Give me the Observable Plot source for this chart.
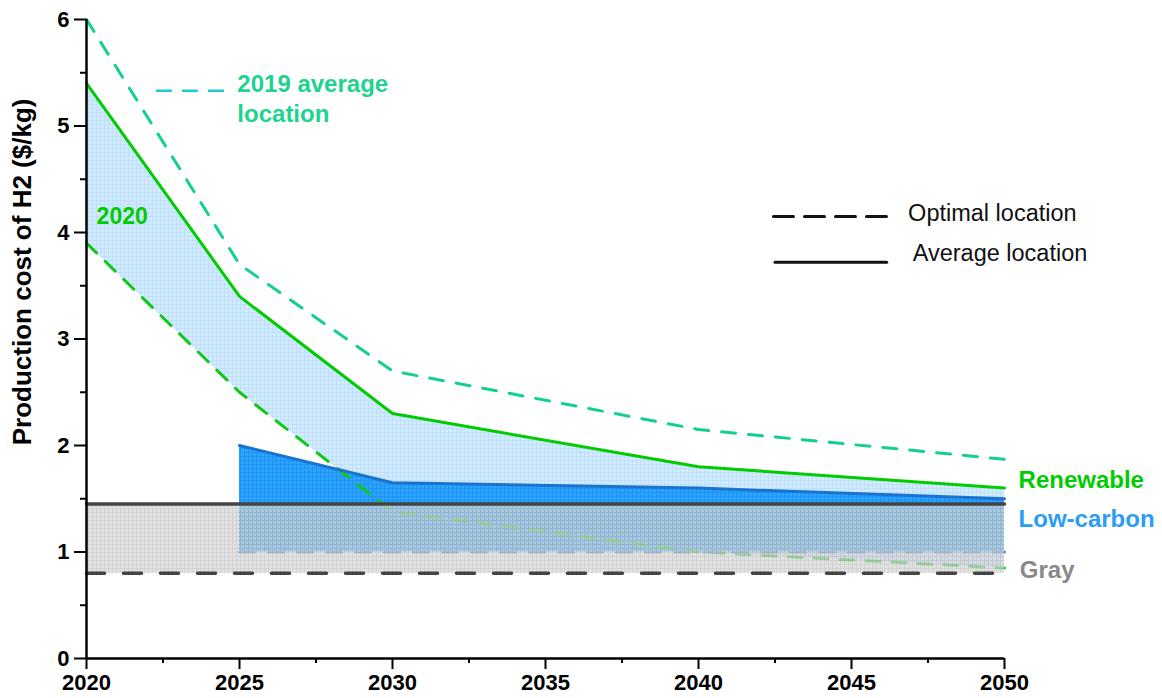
<!DOCTYPE html>
<html><head><meta charset="utf-8">
<script src="https://cdn.jsdelivr.net/npm/d3@7"></script>
<script src="https://cdn.jsdelivr.net/npm/@observablehq/plot@0.6"></script>
<style>
body{margin:0;background:#fff;}
#chart svg{font-family:"Liberation Sans",Arial,Helvetica,sans-serif;overflow:visible;}
#chart svg g[aria-label="x-axis tick label"], #chart svg g[aria-label="y-axis tick label"]{font-size:22px;font-weight:bold;fill:#000;}
</style></head><body><div id="chart"></div>
<script>
// ---- data ----
const years = [2020, 2025, 2030, 2040, 2050];
const renew2019Avg = [6.0, 3.7, 2.7, 2.15, 1.87];
const renewAvg = [5.4, 3.4, 2.3, 1.8, 1.6];
const renewOpt = [3.9, 2.5, 1.38, 1.0, 0.85];
const lowYears = [2025, 2030, 2040, 2050];
const lowAvg = [2.0, 1.65, 1.6, 1.5];
const lowOpt = [1.0, 1.0, 1.0, 1.0];
const grayYears = [2020, 2050];
const grayAvg = [1.45, 1.45];
const grayOpt = [0.8, 0.8];
const xMajor = [2020, 2025, 2030, 2035, 2040, 2045, 2050];
const xMinor = [2022.5, 2027.5, 2032.5, 2037.5, 2042.5, 2047.5];
const yMajor = [0, 1, 2, 3, 4, 5, 6];
const yMinor = [0.5, 1.5, 2.5, 3.5, 4.5, 5.5];
const seriesLabels = ["Renewable", "Low-carbon", "Gray"];
const legendLabels = ["Optimal location", "Average location"];

const renew = years.map((x, i) => ({x, avg: renewAvg[i], opt: renewOpt[i], y19: renew2019Avg[i]}));
const low = lowYears.map((x, i) => ({x, avg: lowAvg[i], opt: lowOpt[i]}));
const gray = grayYears.map((x, i) => ({x, avg: grayAvg[i], opt: grayOpt[i]}));
const sample2019 = [{x: 2022.3, y: 5.33}, {x: 2024.5, y: 5.33}];
const legOpt = [{x: 2042.45, y: 4.15}, {x: 2046.15, y: 4.15}];
const legAvg = [{x: 2042.5, y: 3.72}, {x: 2046.15, y: 3.72}];

const chart = Plot.plot({
  width: 1162, height: 698,
  marginLeft: 86, marginRight: 158, marginTop: 19, marginBottom: 40,
  x: {domain: [2020, 2050]},
  y: {domain: [0, 6]},
  marks: [
    Plot.areaY(renew, {x: "x", y1: "opt", y2: "avg", fill: "url(#pRenew)"}),
    Plot.areaY(low, {x: "x", y1: "opt", y2: "avg", fill: "url(#pLow)"}),
    Plot.line(renew, {x: "x", y: "opt", stroke: "#11c81a", strokeWidth: 3, strokeDasharray: "14,12"}),
    Plot.line(low, {x: "x", y: "opt", stroke: "#4a86d0", strokeWidth: 3, strokeDasharray: "15,14"}),
    Plot.areaY(gray, {x: "x", y1: "opt", y2: "avg", fill: "url(#pGray)", fillOpacity: 0.72}),
    Plot.line(renew, {x: "x", y: "y19", stroke: "#14cf95", strokeWidth: 3, strokeDasharray: "14,13"}),
    Plot.line(renew, {x: "x", y: "avg", stroke: "#00cc00", strokeWidth: 3}),
    Plot.line(low, {x: "x", y: "avg", stroke: "#1a73cf", strokeWidth: 3}),
    Plot.line(gray, {x: "x", y: "avg", stroke: "#444", strokeWidth: 3.5}),
    Plot.line(gray, {x: "x", y: "opt", stroke: "#444", strokeWidth: 3.5, strokeDasharray: "18,19"}),
    // axes
    Plot.axisX({ticks: xMajor, tickSize: 11, tickPadding: 5, tickFormat: d => String(d), fontSize: 22, fontWeight: "bold", color: "#000", strokeWidth: 2, label: null}),
    Plot.axisX({ticks: xMinor, tickSize: 5, tickFormat: () => "", color: "#000", strokeWidth: 2, label: null}),
    Plot.axisY({ticks: yMajor, tickSize: 12, tickPadding: 5, tickFormat: d => String(d), fontSize: 22, fontWeight: "bold", color: "#000", strokeWidth: 2, label: null}),
    Plot.axisY({ticks: yMinor, tickSize: 6, tickFormat: () => "", color: "#000", strokeWidth: 2, label: null}),
    Plot.ruleX([2020], {stroke: "#000", strokeWidth: 2.5}),
    Plot.ruleY([0], {stroke: "#000", strokeWidth: 2.5}),
    Plot.text(["Production cost of H2 ($/kg)"], {x: 2020, y: 3.63, dx: -64, rotate: -90, fontSize: 26, fontWeight: "bold", fill: "#000"}),
    // annotations
    Plot.line(sample2019, {x: "x", y: "y", stroke: "#1ccbcb", strokeWidth: 2.5, strokeDasharray: "14,12"}),
    Plot.text(["2019 average\nlocation"], {x: 2024.93, y: 5.52, textAnchor: "start", lineAnchor: "top", lineHeight: 1.25, fontSize: 24, fontWeight: "bold", fill: "#1ed38e"}),
    Plot.text(["2020"], {x: 2020.33, y: 4.15, textAnchor: "start", fontSize: 23, fontWeight: "bold", fill: "#00cc00"}),
    Plot.line(legOpt, {x: "x", y: "y", stroke: "#111", strokeWidth: 3, strokeDasharray: "20,11"}),
    Plot.line(legAvg, {x: "x", y: "y", stroke: "#111", strokeWidth: 3}),
    Plot.text([legendLabels[0]], {x: 2046.85, y: 4.18, textAnchor: "start", fontSize: 23.5, fill: "#111"}),
    Plot.text([legendLabels[1]], {x: 2047.0, y: 3.8, textAnchor: "start", fontSize: 23.5, fill: "#111"}),
    Plot.text([seriesLabels[0]], {x: 2050.46, y: 1.67, textAnchor: "start", fontSize: 24, fontWeight: "bold", fill: "#00cc00"}),
    Plot.text([seriesLabels[1]], {x: 2050.46, y: 1.31, textAnchor: "start", fontSize: 24, fontWeight: "bold", fill: "#2a9df4"}),
    Plot.text([seriesLabels[2]], {x: 2050.5, y: 0.83, textAnchor: "start", fontSize: 24, fontWeight: "bold", fill: "#888"})
  ]
});
document.getElementById("chart").appendChild(chart);

// grid-textured fills
const defs = d3.select(chart).insert("defs", ":first-child");
function grid(id, bg, line) {
  const p = defs.append("pattern").attr("id", id).attr("patternUnits", "userSpaceOnUse").attr("width", 4).attr("height", 4);
  p.append("rect").attr("width", 4).attr("height", 4).attr("fill", bg);
  p.append("path").attr("d", "M0,0.5H4M0.5,0V4").attr("stroke", line).attr("stroke-width", 1).attr("fill", "none");
}
grid("pRenew", "#d3ebff", "#bfe0fb");
grid("pLow", "#2ba3ff", "#1e95f0");
grid("pGray", "#d6d6d6", "#c2c2c2");
</script></body></html>
